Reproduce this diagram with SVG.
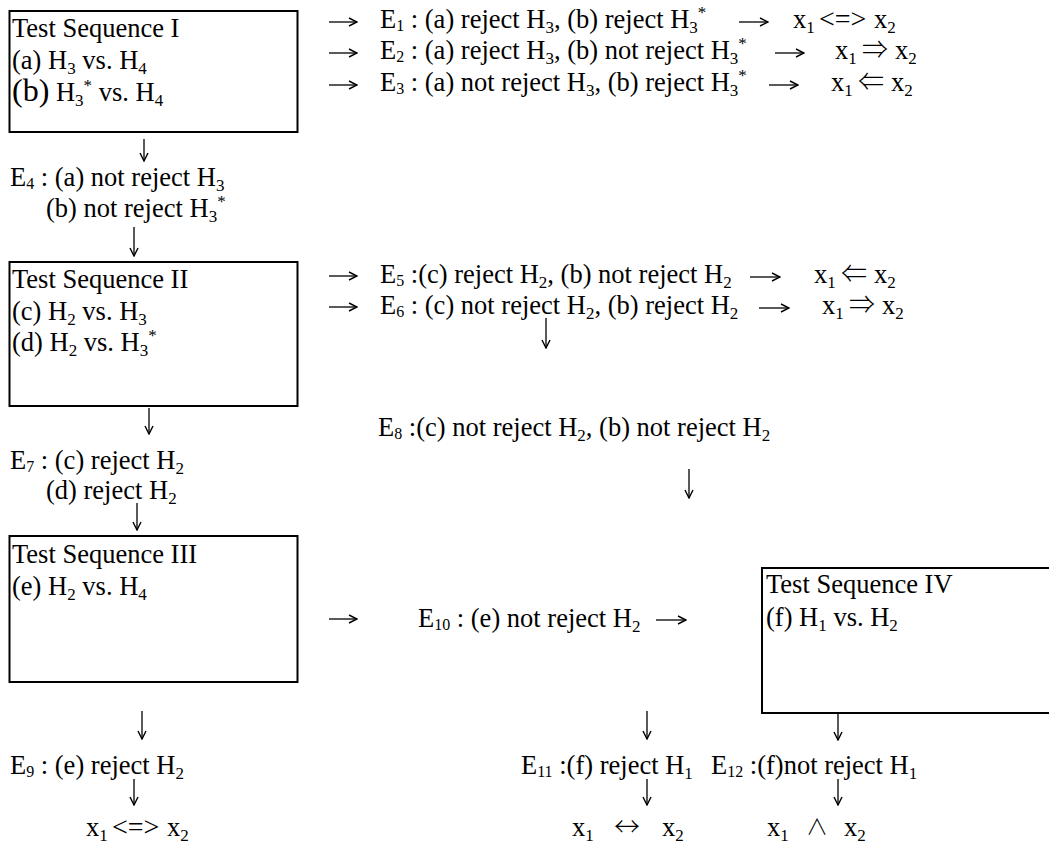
<svg xmlns="http://www.w3.org/2000/svg" width="1049" height="846" viewBox="0 0 1049 846">
<style>
.t{font-family:"Liberation Serif","Times New Roman",serif;font-size:26.5px;fill:#000}
.s{font-size:17px}
.es{font-size:16px}
.sym{font-family:"Noto Sans CJK JP","DejaVu Serif",serif;font-size:26px;font-weight:300}
.and{font-family:"Noto Sans CJK JP","DejaVu Serif",serif;font-size:22px;font-weight:300}
.lt{font-size:28px}
.box{fill:#fff;stroke:#000;stroke-width:2}
.c{stroke:#000;stroke-width:1.3;fill:none;marker-end:url(#ah)}
</style>
<defs>
<marker id="ah" viewBox="0 0 10 10" refX="9" refY="5" markerWidth="10" markerHeight="10" markerUnits="userSpaceOnUse" orient="auto">
<path d="M1,1 L9,5 L1,9" fill="none" stroke="#000" stroke-width="1.4"/>
</marker>
</defs>
<rect width="1049" height="846" fill="#fff"/>

<g id="seq1">
<rect class="box" x="9.5" y="11" width="288" height="121"/>
<text class="t" x="12" y="37">Test Sequence I</text>
<text class="t" x="12" y="69">(a) H<tspan class="s" dy="5">3</tspan><tspan dy="-5"> vs. H</tspan><tspan class="s" dy="5">4</tspan></text>
<text class="t" x="12" y="101"><tspan font-size="32">(b)</tspan> H<tspan class="s" dy="5">3</tspan><tspan class="s" dy="-15">*</tspan><tspan dy="10"> vs. H</tspan><tspan class="s" dy="5">4</tspan></text>
</g>

<g id="e1">
<text class="t" x="380" y="28">E<tspan class="es" dy="3">1</tspan><tspan dy="-3"> : (a) reject H</tspan><tspan class="s" dy="5">3</tspan><tspan dy="-5">, (b) reject H</tspan><tspan class="s" dy="5">3</tspan><tspan class="s" dy="-15">*</tspan></text>
<text class="t" x="793" y="28">x<tspan class="s" dy="5">1</tspan></text>
<text class="t lt" x="819" y="28">&lt;=&gt;</text>
<text class="t" x="874" y="28">x<tspan class="s" dy="5">2</tspan></text>
</g>
<g id="e2">
<text class="t" x="380" y="59">E<tspan class="es" dy="3">2</tspan><tspan dy="-3"> : (a) reject H</tspan><tspan class="s" dy="5">3</tspan><tspan dy="-5">, (b) not reject H</tspan><tspan class="s" dy="5">3</tspan><tspan class="s" dy="-15">*</tspan></text>
<text class="t" x="835" y="59">x<tspan class="s" dy="5">1</tspan></text>
<text class="sym" x="862" y="59">⇒</text>
<text class="t" x="895" y="59">x<tspan class="s" dy="5">2</tspan></text>
</g>
<g id="e3">
<text class="t" x="380" y="91">E<tspan class="es" dy="3">3</tspan><tspan dy="-3"> : (a) not reject H</tspan><tspan class="s" dy="5">3</tspan><tspan dy="-5">, (b) reject H</tspan><tspan class="s" dy="5">3</tspan><tspan class="s" dy="-15">*</tspan></text>
<text class="t" x="831" y="91">x<tspan class="s" dy="5">1</tspan></text>
<text class="sym" x="858" y="91">⇐</text>
<text class="t" x="891" y="91">x<tspan class="s" dy="5">2</tspan></text>
</g>

<g id="e4">
<text class="t" x="10" y="186">E<tspan class="es" dy="3">4</tspan><tspan dy="-3"> : (a) not reject H</tspan><tspan class="s" dy="5">3</tspan></text>
<text class="t" x="46" y="217">(b) not reject H<tspan class="s" dy="5">3</tspan><tspan class="s" dy="-15">*</tspan></text>
</g>

<g id="seq2">
<rect class="box" x="9.5" y="262" width="288" height="144"/>
<text class="t" x="12" y="288">Test Sequence II</text>
<text class="t" x="12" y="320">(c) H<tspan class="s" dy="5">2</tspan><tspan dy="-5"> vs. H</tspan><tspan class="s" dy="5">3</tspan></text>
<text class="t" x="12" y="351">(d) H<tspan class="s" dy="5">2</tspan><tspan dy="-5"> vs. H</tspan><tspan class="s" dy="5">3</tspan><tspan class="s" dy="-15">*</tspan></text>
</g>

<g id="e5">
<text class="t" x="380" y="283">E<tspan class="es" dy="3">5</tspan><tspan dy="-3"> :(c) reject H</tspan><tspan class="s" dy="5">2</tspan><tspan dy="-5">, (b) not reject H</tspan><tspan class="s" dy="5">2</tspan></text>
<text class="t" x="814" y="283">x<tspan class="s" dy="5">1</tspan></text>
<text class="sym" x="841" y="283">⇐</text>
<text class="t" x="874" y="283">x<tspan class="s" dy="5">2</tspan></text>
</g>
<g id="e6">
<text class="t" x="380" y="314">E<tspan class="es" dy="3">6</tspan><tspan dy="-3"> : (c) not reject H</tspan><tspan class="s" dy="5">2</tspan><tspan dy="-5">, (b) reject H</tspan><tspan class="s" dy="5">2</tspan></text>
<text class="t" x="822" y="314">x<tspan class="s" dy="5">1</tspan></text>
<text class="sym" x="849" y="314">⇒</text>
<text class="t" x="882" y="314">x<tspan class="s" dy="5">2</tspan></text>
</g>

<g id="e8">
<text class="t" x="378" y="436">E<tspan class="es" dy="3">8</tspan><tspan dy="-3"> :(c) not reject H</tspan><tspan class="s" dy="5">2</tspan><tspan dy="-5">, (b) not reject H</tspan><tspan class="s" dy="5">2</tspan></text>
</g>

<g id="e7">
<text class="t" x="10" y="469">E<tspan class="es" dy="3">7</tspan><tspan dy="-3"> : (c) reject H</tspan><tspan class="s" dy="5">2</tspan></text>
<text class="t" x="46" y="499">(d) reject H<tspan class="s" dy="5">2</tspan></text>
</g>

<g id="seq3">
<rect class="box" x="9.5" y="536" width="288" height="146"/>
<text class="t" x="12" y="563">Test Sequence III</text>
<text class="t" x="12" y="595">(e) H<tspan class="s" dy="5">2</tspan><tspan dy="-5"> vs. H</tspan><tspan class="s" dy="5">4</tspan></text>
</g>

<g id="e10">
<text class="t" x="418" y="627">E<tspan class="es" dy="3">10</tspan><tspan dy="-3"> : (e) not reject H</tspan><tspan class="s" dy="5">2</tspan></text>
</g>

<g id="seq4">
<rect class="box" x="762" y="568" width="300" height="145"/>
<text class="t" x="766" y="593">Test Sequence IV</text>
<text class="t" x="766" y="626">(f) H<tspan class="s" dy="5">1</tspan><tspan dy="-5"> vs. H</tspan><tspan class="s" dy="5">2</tspan></text>
</g>

<g id="e9">
<text class="t" x="10" y="774">E<tspan class="es" dy="3">9</tspan><tspan dy="-3"> : (e) reject H</tspan><tspan class="s" dy="5">2</tspan></text>
<text class="t" x="86" y="836">x<tspan class="s" dy="5">1</tspan></text>
<text class="t lt" x="112" y="836">&lt;=&gt;</text>
<text class="t" x="167" y="836">x<tspan class="s" dy="5">2</tspan></text>
</g>

<g id="e11">
<text class="t" x="521" y="774">E<tspan class="es" dy="3">11</tspan><tspan dy="-3"> :(f) reject H</tspan><tspan class="s" dy="5">1</tspan></text>
<text class="t" x="572" y="836">x<tspan class="s" dy="5">1</tspan></text>
<text class="sym" x="614" y="836">↔</text>
<text class="t" x="662" y="836">x<tspan class="s" dy="5">2</tspan></text>
</g>
<g id="e12">
<text class="t" x="711" y="774">E<tspan class="es" dy="3">12</tspan><tspan dy="-3"> :(f)not reject H</tspan><tspan class="s" dy="5">1</tspan></text>
<text class="t" x="767" y="836">x<tspan class="s" dy="5">1</tspan></text>
<text class="and" x="806" y="834">∧</text>
<text class="t" x="844" y="836">x<tspan class="s" dy="5">2</tspan></text>
</g>

<g id="connectors">
<line class="c" x1="329" y1="22" x2="357" y2="22"/>
<line class="c" x1="329" y1="53" x2="357" y2="53"/>
<line class="c" x1="329" y1="85" x2="357" y2="85"/>
<line class="c" x1="739" y1="22" x2="768" y2="22"/>
<line class="c" x1="775" y1="53" x2="804" y2="53"/>
<line class="c" x1="769" y1="85" x2="798" y2="85"/>
<line class="c" x1="329" y1="276" x2="357" y2="276"/>
<line class="c" x1="329" y1="307" x2="357" y2="307"/>
<line class="c" x1="750" y1="277" x2="780" y2="277"/>
<line class="c" x1="759" y1="308" x2="789" y2="308"/>
<line class="c" x1="329" y1="619" x2="357" y2="619"/>
<line class="c" x1="656" y1="620" x2="686" y2="620"/>
<line class="c" x1="144" y1="139" x2="144" y2="161"/>
<line class="c" x1="134" y1="227" x2="134" y2="256"/>
<line class="c" x1="149" y1="408" x2="149" y2="434"/>
<line class="c" x1="546" y1="318" x2="546" y2="348"/>
<line class="c" x1="689" y1="469" x2="689" y2="498"/>
<line class="c" x1="137" y1="503" x2="137" y2="530"/>
<line class="c" x1="142" y1="711" x2="142" y2="739"/>
<line class="c" x1="134" y1="779" x2="134" y2="805"/>
<line class="c" x1="647" y1="711" x2="647" y2="739"/>
<line class="c" x1="838" y1="713" x2="838" y2="740"/>
<line class="c" x1="647" y1="779" x2="647" y2="805"/>
<line class="c" x1="838" y1="779" x2="838" y2="805"/>
</g>
</svg>
